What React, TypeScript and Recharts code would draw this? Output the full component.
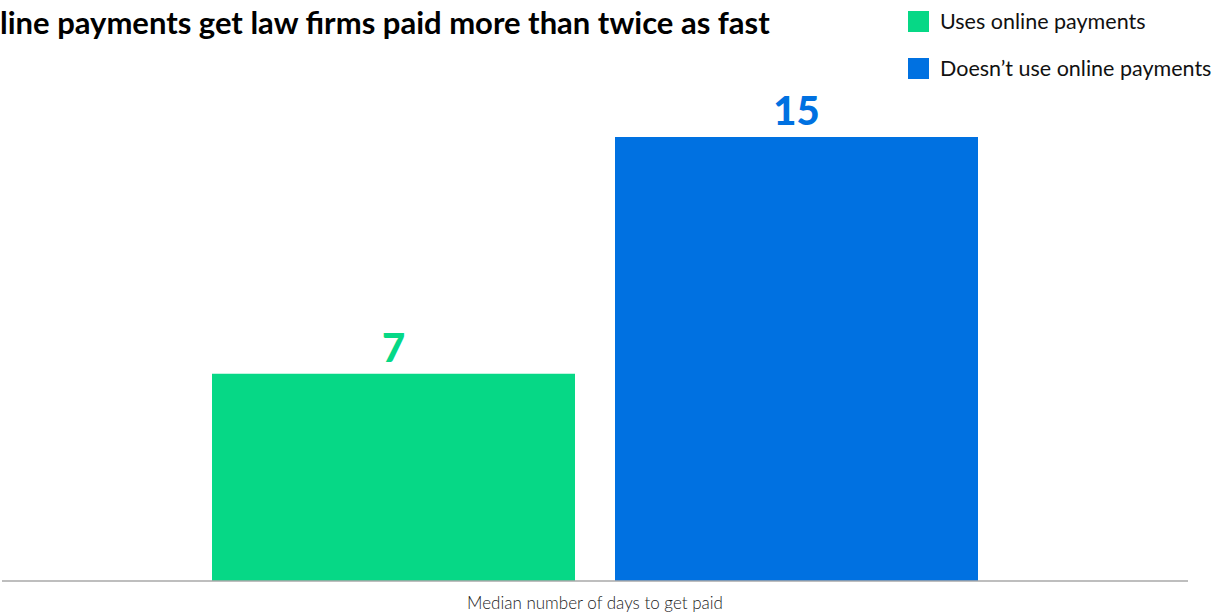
import React from "react";
import { BarChart, Bar, XAxis, YAxis, LabelList } from "recharts";

const categories = ["Median number of days to get paid"];
const usesOnline = [7];
const noOnline = [15];
const seriesNames = ["Uses online payments", "Doesn\u2019t use online payments"];
const title = "line payments get law firms paid more than twice as fast";

const GREEN = "#06D886";
const BLUE = "#0071E1";
const FONT = "'Lato', 'Open Sans', sans-serif";

const data = categories.map((c, i) => ({ name: c, online: usesOnline[i], offline: noOnline[i] }));

export default function App() {
  return (
    <div style={{ position: "absolute", left: 0, top: 0, width: 1220, height: 616, background: "#fff", fontFamily: FONT }}>
      <div style={{ position: "absolute", left: 0, top: 3, fontSize: 31, fontWeight: 700, color: "#000", whiteSpace: "nowrap" }}>
        {title}
      </div>
      <div style={{ position: "absolute", left: 908, top: 9 }}>
        {seriesNames.map((n, i) => (
          <div key={n} style={{ display: "flex", alignItems: "center", height: 24, marginBottom: 23 }}>
            <div style={{ width: 21, height: 21, background: i === 0 ? GREEN : BLUE, marginRight: 11 }} />
            <span style={{ fontSize: 21.5, color: "#111", whiteSpace: "nowrap" }}>{n}</span>
          </div>
        ))}
      </div>
      <BarChart
        width={1220}
        height={616}
        data={data}
        margin={{ top: 137, right: 32, bottom: 5, left: 2 }}
        barCategoryGap="17.8%"
        barGap={40}
      >
        <XAxis
          dataKey="name"
          height={30}
          tickLine={false}
          axisLine={{ stroke: "#A8A8A8", strokeWidth: 1.5 }}
          tick={{ fontSize: 17, fill: "#222", fontFamily: FONT, fontWeight: 300 }}
          tickMargin={10}
        />
        <YAxis hide domain={[0, 15]} />
        <Bar dataKey="online" fill={GREEN} isAnimationActive={false} barSize={363}>
          <LabelList dataKey="online" position="top" offset={12} fill={GREEN} style={{ fontSize: 40, fontWeight: 900, fontFamily: FONT }} />
        </Bar>
        <Bar dataKey="offline" fill={BLUE} isAnimationActive={false} barSize={363}>
          <LabelList dataKey="offline" position="top" offset={12} fill={BLUE} style={{ fontSize: 40, fontWeight: 900, fontFamily: FONT }} />
        </Bar>
      </BarChart>
    </div>
  );
}
